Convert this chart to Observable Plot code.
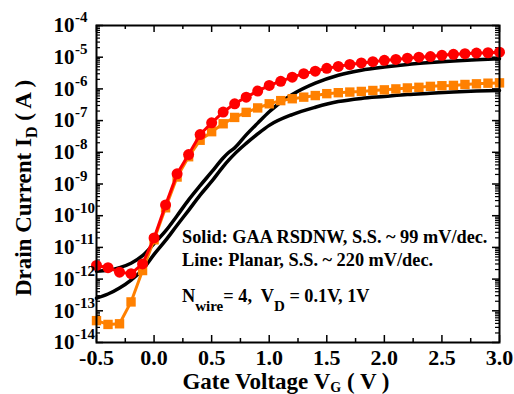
<!DOCTYPE html>
<html><head><meta charset="utf-8">
<script src="https://cdn.jsdelivr.net/npm/d3@7"></script>
<script src="https://cdn.jsdelivr.net/npm/@observablehq/plot@0.6"></script>
<style>html,body{margin:0;padding:0;background:#fff;} #chart{width:514px;height:394px;}</style>
</head><body><div id="chart"></div>
<script>
// Gate voltage samples for the GAA RSDNW measured curves (V)
const gateVoltage = [-0.5,-0.4,-0.3,-0.2,-0.1,0.0,0.1,0.2,0.3,0.4,0.5,0.6,0.7,0.8,0.9,1.0,1.1,1.2,1.3,1.4,1.5,1.6,1.7,1.8,1.9,2.0,2.1,2.2,2.3,2.4,2.5,2.6,2.7,2.8,2.9,3.0];
// log10 of drain current (A), GAA RSDNW, VD = 1 V (red circles)
const gaaVd1Log = [-11.57,-11.64,-11.78,-11.83,-11.52,-10.70,-9.66,-8.68,-8.07,-7.44,-7.07,-6.73,-6.47,-6.26,-6.07,-5.89,-5.76,-5.63,-5.52,-5.44,-5.35,-5.29,-5.23,-5.18,-5.14,-5.10,-5.07,-5.03,-5.00,-4.98,-4.94,-4.91,-4.89,-4.87,-4.86,-4.84];
// log10 of drain current (A), GAA RSDNW, VD = 0.1 V (orange squares)
const gaaVd01Log = [-13.31,-13.43,-13.41,-12.72,-11.73,-10.76,-9.75,-8.78,-8.14,-7.62,-7.35,-7.10,-6.90,-6.74,-6.60,-6.47,-6.37,-6.31,-6.26,-6.21,-6.15,-6.12,-6.10,-6.08,-6.05,-6.03,-6.00,-5.97,-5.95,-5.92,-5.90,-5.89,-5.86,-5.84,-5.82,-5.81];
// Planar device curves (black lines)
const planarVg = [-0.5,-0.4,-0.3,-0.2,-0.1,0.0,0.1,0.2,0.3,0.4,0.5,0.6,0.65,0.7,0.8,0.9,1.0,1.2,1.4,1.6,1.8,2.0,2.2,2.4,2.6,2.8,3.0];
const planarVd1Log = [-11.75,-11.72,-11.64,-11.50,-11.26,-10.88,-10.48,-10.00,-9.50,-9.05,-8.62,-8.18,-8.00,-7.86,-7.45,-7.08,-6.72,-6.18,-5.82,-5.57,-5.41,-5.31,-5.23,-5.17,-5.12,-5.08,-5.05];
const planarVd01Log = [-12.60,-12.47,-12.28,-12.03,-11.70,-11.22,-10.78,-10.30,-9.83,-9.35,-8.92,-8.45,-8.24,-8.05,-7.72,-7.42,-7.15,-6.81,-6.58,-6.40,-6.30,-6.24,-6.18,-6.14,-6.10,-6.07,-6.05];
// Axis ticks
const xTicks = [-0.5,0.0,0.5,1.0,1.5,2.0,2.5,3.0];
const xTickLabels = ["-0.5","0.0","0.5","1.0","1.5","2.0","2.5","3.0"];
const xMinorTicks = [-0.25,0.25,0.75,1.25,1.75,2.25,2.75];
const yExponents = [-4,-5,-6,-7,-8,-9,-10,-11,-12,-13,-14];

const toRows = (xs, logs) => xs.map((v, i) => ({v, I: Math.pow(10, logs[i])}));
const red = toRows(gateVoltage, gaaVd1Log);
const orange = toRows(gateVoltage, gaaVd01Log);
const blackHi = toRows(planarVg, planarVd1Log);
const blackLo = toRows(planarVg, planarVd01Log);

const yMajor = yExponents.map(e => Math.pow(10, e));
const yMinor = [];
for (let e = -14; e < -4; e++) for (let m = 2; m <= 9; m++) yMinor.push(m * Math.pow(10, e));

const W = 514, H = 394, mL = 96, mR = 15, mT = 25, mB = 52;
const iW = W - mL - mR, iH = H - mT - mB;
const font = "'Liberation Serif','Times New Roman',serif";

const chart = Plot.plot({
  width: W, height: H, marginLeft: mL, marginRight: mR, marginTop: mT, marginBottom: mB,
  x: {domain: [-0.5, 3.0], axis: null},
  y: {type: "log", domain: [1e-14, 1e-4], axis: null},
  style: {fontFamily: font, fontWeight: "bold", background: "white", color: "black", overflow: "visible"},
  marks: [
    // ticks (inward)
    Plot.ruleX(xTicks, {x: d => d, insetTop: iH - 7, strokeWidth: 1.5}),
    Plot.ruleX(xTicks, {x: d => d, insetBottom: iH - 7, strokeWidth: 1.5}),
    Plot.ruleX(xMinorTicks, {x: d => d, insetTop: iH - 4, strokeWidth: 1.5}),
    Plot.ruleX(xMinorTicks, {x: d => d, insetBottom: iH - 4, strokeWidth: 1.5}),
    Plot.ruleY(yMajor, {y: d => d, insetRight: iW - 7, strokeWidth: 1.5}),
    Plot.ruleY(yMajor, {y: d => d, insetLeft: iW - 7, strokeWidth: 1.5}),
    Plot.ruleY(yMinor, {y: d => d, insetRight: iW - 4, strokeWidth: 1.2}),
    Plot.ruleY(yMinor, {y: d => d, insetLeft: iW - 4, strokeWidth: 1.2}),
    // planar lines
    Plot.line(blackHi, {x: "v", y: "I", stroke: "black", strokeWidth: 3.5, curve: "monotone-x"}),
    Plot.line(blackLo, {x: "v", y: "I", stroke: "black", strokeWidth: 3.5, curve: "monotone-x"}),
    // GAA VD=0.1V
    Plot.line(orange, {x: "v", y: "I", stroke: "#ff8000", strokeWidth: 3}),
    Plot.dot(orange, {x: "v", y: "I", symbol: "square", r: 5.3, fill: "#ff8000"}),
    // GAA VD=1V
    Plot.line(red, {x: "v", y: "I", stroke: "#ff0000", strokeWidth: 3}),
    Plot.dot(red, {x: "v", y: "I", r: 5.5, fill: "#ff0000"}),
    Plot.frame({stroke: "black", strokeWidth: 2}),
    // x tick labels
    Plot.text(xTicks, {x: d => d, text: (d, i) => xTickLabels[i], frameAnchor: "bottom", lineAnchor: "middle", dy: 15, fontSize: 22, fontWeight: "bold", fill: "black"}),
    // y tick labels: "10" + exponent
    Plot.text(yMajor, {y: d => d, text: () => "10", frameAnchor: "left", textAnchor: "end", lineAnchor: "middle", dx: -22, fontSize: 21, fontWeight: "bold", fill: "black"}),
    Plot.text(yExponents, {y: e => Math.pow(10, e), text: e => String(e), frameAnchor: "left", textAnchor: "start", lineAnchor: "middle", dx: -21.5, dy: -8, fontSize: 15, fontWeight: "bold", fill: "black"})
  ]
});

const svg = d3.select(chart);
svg.style("font-family", font);
// Y axis label
const yl = svg.append("text").attr("transform", "translate(31,188) rotate(-90)")
  .attr("text-anchor", "middle").attr("font-size", 23).attr("font-weight", "bold").attr("fill", "black");
yl.append("tspan").text("Drain Current I");
yl.append("tspan").attr("font-size", 16).attr("dy", 6).text("D");
yl.append("tspan").attr("dy", -6).text(" ( A )");
// X axis label
const xl = svg.append("text").attr("x", 286).attr("y", 389)
  .attr("text-anchor", "middle").attr("font-size", 23).attr("font-weight", "bold").attr("fill", "black");
xl.append("tspan").text("Gate Voltage V");
xl.append("tspan").attr("font-size", 14).attr("dy", 3).text("G");
xl.append("tspan").attr("dy", -3).text(" ( V )");
// Annotations
const ann = (y) => svg.append("text").attr("x", 182).attr("y", y).attr("text-anchor", "start")
  .attr("font-size", 18.3).attr("font-weight", "bold").attr("fill", "black");
ann(243).text("Solid: GAA RSDNW, S.S. ~ 99 mV/dec.");
ann(266).text("Line: Planar, S.S. ~ 220 mV/dec.");
const n = ann(302);
n.append("tspan").text("N");
n.append("tspan").attr("font-size", 15).attr("dy", 9).text("wire");
n.append("tspan").attr("dy", -9).text("= 4,  V");
n.append("tspan").attr("font-size", 15).attr("dy", 9).text("D");
n.append("tspan").attr("dy", -9).text(" = 0.1V, 1V");

document.getElementById("chart").appendChild(chart);
</script>
</body></html>
